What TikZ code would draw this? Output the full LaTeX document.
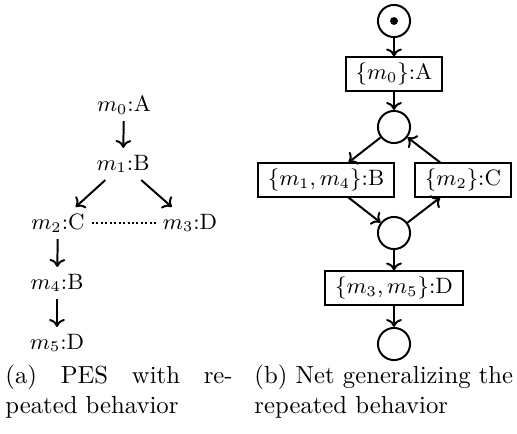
\documentclass[tikz,border=0pt]{standalone}
\usetikzlibrary{arrows.meta}
\begin{document}
\begin{tikzpicture}[x=0.405pt,y=-0.405pt,
  ev/.style={inner xsep=3.6pt, inner ysep=0pt, minimum height=12.6pt, font=\fontsize{9}{11}\selectfont},
  tr/.style={draw, thick, inner xsep=4pt, inner ysep=0pt, minimum height=13.4pt, font=\fontsize{9}{11}\selectfont},
  pl/.style={draw, thick, circle, minimum size=13pt, inner sep=0pt},
  arr/.style={thick, -{To[length=3.2pt,width=6.4pt]}},
  captext/.style={anchor=base west, inner sep=0pt, font=\fontsize{10}{12}\selectfont}
]
\useasboundingbox (0,0) rectangle (517,433);
% (a) PES
\node[ev] (m0) at (124,105) {$m_0$:A};
\node[ev] (m1) at (123,164) {$m_1$:B};
\node[ev] (m2) at (58,223) {$m_2$:C};
\node[ev] (m3) at (190,223) {$m_3$:D};
\node[ev] (m4) at (57,283) {$m_4$:B};
\node[ev] (m5) at (57,343) {$m_5$:D};
\draw[arr] (m0) -- (m1);
\draw[arr] (m1) -- (m2);
\draw[arr] (m1) -- (m3);
\draw[arr] (m2) -- (m4);
\draw[arr] (m4) -- (m5);
\draw[densely dotted, thick, shorten <=-0.8pt, shorten >=-1.2pt] (m2) -- (m3);
% (b) Net
\node[pl] (p1) at (394,21) {};
\fill (p1.center) circle (1.6pt);
\node[tr] (tA) at (394,74) {$\{m_0\}$:A};
\node[pl] (p2) at (394,127) {};
\node[tr] (tB) at (326,180) {$\{m_1,m_4\}$:B};
\node[tr] (tC) at (463,180) {$\{m_2\}$:C};
\node[pl] (p3) at (394,233) {};
\node[tr] (tD) at (394,288) {$\{m_3,m_5\}$:D};
\node[pl] (p4) at (394,344) {};
\draw[arr] (p1) -- (tA);
\draw[arr] (tA) -- (p2);
\draw[arr] (p2) -- (tB);
\draw[arr] (tC) -- (p2);
\draw[arr] (tB) -- (p3);
\draw[arr] (p3) -- (tC);
\draw[arr] (p3) -- (tD);
\draw[arr] (tD) -- (p4);
% captions
\node[captext] (ca1) at (5,383) {\makebox[92pt][s]{(a) PES with re-}};
\node[captext] (ca2) at (5,413) {peated behavior};
\node[captext] (cb1) at (254,383) {(b) Net generalizing the};
\node[captext] (cb2) at (254,413) {repeated behavior};
\end{tikzpicture}
\end{document}
